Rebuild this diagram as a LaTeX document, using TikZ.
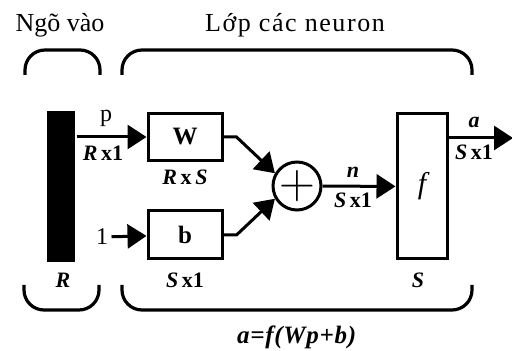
\documentclass[tikz,border=0pt]{standalone}
\usepackage{fontspec}
\setmainfont{Liberation Serif}
\usetikzlibrary{arrows.meta, positioning}

\begin{document}
\begin{tikzpicture}[
        x=0.5pt, y=-0.5pt,
        line width=1.5pt,
        sig/.style={-{Triangle[length=9.5pt, width=12pt]}},
        block/.style={rectangle, draw=black, fill=white, line width=1.5pt, inner sep=0pt},
        brace/.style={line width=1.6pt, rounded corners=10pt},
        title/.style={font=\fontsize{13}{15}\selectfont},
        dim/.style={font=\fontsize{11}{13}\selectfont\bfseries, inner sep=0pt},
        sym/.style={font=\fontsize{12}{14}\selectfont, inner sep=0pt}
    ]
    \useasboundingbox (0,0) rectangle (512,351);

    % tieu de
    \node[title] (intitle) at (60,25) {Ngõ vào};
    \node[title] (layertitle) at (295,25) {\addfontfeatures{LetterSpace=6}Lớp các neuron};

    % khoi
    \node[rectangle, fill=black, minimum width=14pt, minimum height=75.5pt, inner sep=0pt] (inbar) at (61,186.5) {};
    \node[block, minimum width=37pt, minimum height=23.5pt] (wbox) at (185,137) {\fontsize{12.5}{14}\selectfont\bfseries W};
    \node[block, minimum width=37pt, minimum height=24pt] (bbox) at (185,235) {\fontsize{12.5}{14}\selectfont\bfseries b};
    \node[circle, draw=black, fill=white, line width=1.5pt, minimum size=24pt, inner sep=0pt] (sumnode) at (297,186) {\fontsize{24}{24}\selectfont$+$};
    \node[block, minimum width=25pt, minimum height=72.5pt] (fbox) at (422,186.5) {\fontsize{15}{16}\selectfont\itshape f};
    \node[sym] (one) at (102,237) {1};
    \coordinate (aout) at (513,138);

    % ket noi
    \draw[sig] (inbar.east |- wbox) -- (wbox);
    \draw[sig, shorten <=1pt] (one) -- (bbox);
    \draw[sig] (wbox.east) -- ++(13,0) -- (sumnode.150);
    \draw[sig] (bbox.east) -- ++(13,0) -- (sumnode.210);
    \draw[sig] (sumnode) -- (fbox);
    \draw[sig] (fbox.east |- aout) -- (aout);

    % nhan
    \node[sym] (plabel) at (106,118) {p};
    \node[dim] (pdim) at (103,153) {\textit{R}\,x1};
    \node[dim] (wdim) at (185,177) {\textit{R}\,x\,\textit{S}};
    \node[dim] (bdim) at (185,280) {\textit{S}\,x1};
    \node[dim] (nlabel) at (353,172) {\textit{n}};
    \node[dim] (ndim) at (353,200) {\textit{S}\,x1};
    \node[dim] (alabel) at (474,122) {\textit{a}};
    \node[dim] (adim) at (474,152) {\textit{S}\,x1};
    \node[dim] (rdim) at (63,280) {\textit{R}};
    \node[dim] (sdim) at (418,280) {\textit{S}};
    \node[dim, font=\fontsize{12.5}{14}\selectfont\bfseries] (formula) at (297,337) {\addfontfeatures{LetterSpace=3}\textit{a=f(Wp+b)}};

    % ngoac
    \draw[brace] (25,75) -- (25,50) -- (100,50) -- (100,75);
    \draw[brace] (122,75) -- (122,50) -- (472,50) -- (472,75);
    \draw[brace] (24,285) -- (24,310) -- (99,310) -- (99,285);
    \draw[brace] (122,285) -- (122,310) -- (472,310) -- (472,285);
\end{tikzpicture}
\end{document}
